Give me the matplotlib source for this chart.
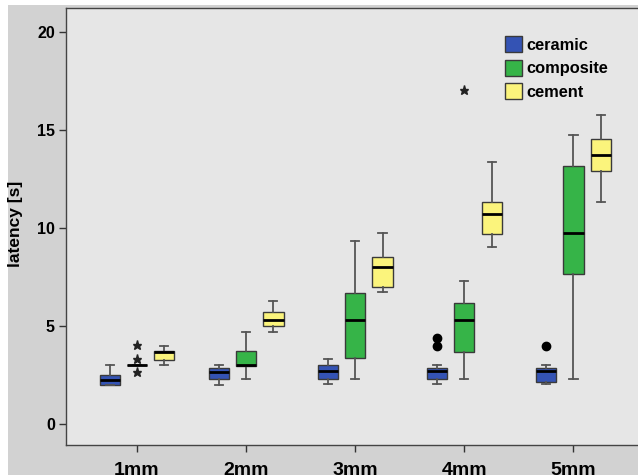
"""Latency by depth: boxplots for ceramic, composite and cement."""

import matplotlib

matplotlib.use("Agg")
import matplotlib.pyplot as plt
from matplotlib.patches import Patch, Rectangle

plt.rcParams["font.family"] = ["Liberation Sans", "DejaVu Sans"]
plt.rcParams["font.weight"] = "bold"

categories = ["1mm", "2mm", "3mm", "4mm", "5mm"]
materials = ["ceramic", "composite", "cement"]

# ceramic
ceramic_whislo = [1.97, 1.99, 2.02, 2.02, 2.02]
ceramic_q1 = [1.97, 2.28, 2.28, 2.28, 2.14]
ceramic_med = [2.24, 2.67, 2.72, 2.72, 2.72]
ceramic_q3 = [2.51, 2.86, 3.01, 2.87, 2.87]
ceramic_whishi = [3.0, 3.0, 3.32, 3.01, 3.0]
ceramic_outliers = [[], [], [], [3.98, 4.37], [3.98]]
ceramic_extremes = [[], [], [], [], []]

# composite
composite_whislo = [3.0, 2.3, 2.31, 2.31, 2.31]
composite_q1 = [3.0, 2.98, 3.35, 3.66, 7.65]
composite_med = [3.0, 3.0, 5.31, 5.31, 9.73]
composite_q3 = [3.0, 3.71, 6.67, 6.16, 13.16]
composite_whishi = [3.0, 4.69, 9.34, 7.3, 14.76]
composite_outliers = [[], [], [], [], []]
composite_extremes = [[2.67, 3.3, 4.03], [], [], [17.04], []]

# cement
cement_whislo = [3.0, 4.69, 6.72, 9.05, 11.33]
cement_q1 = [3.27, 5.0, 6.97, 9.71, 12.89]
cement_med = [3.69, 5.3, 7.99, 10.73, 13.72]
cement_q3 = [3.72, 5.7, 8.5, 11.34, 14.54]
cement_whishi = [4.0, 6.3, 9.73, 13.35, 15.75]
cement_outliers = [[], [], [], [], []]
cement_extremes = [[], [], [], [], []]

series = {
    "ceramic": (ceramic_whislo, ceramic_q1, ceramic_med, ceramic_q3, ceramic_whishi,
                ceramic_outliers, ceramic_extremes),
    "composite": (composite_whislo, composite_q1, composite_med, composite_q3,
                  composite_whishi, composite_outliers, composite_extremes),
    "cement": (cement_whislo, cement_q1, cement_med, cement_q3, cement_whishi,
               cement_outliers, cement_extremes),
}
colors = {"ceramic": "#3453b4", "composite": "#36b448", "cement": "#fbf47c"}
offsets = {"ceramic": -0.25, "composite": 0.0, "cement": 0.25}

W, H = 638, 475
fig = plt.figure(figsize=(W / 100, H / 100), dpi=100, facecolor="#d2d2d2")
# white strips of the scanned figure border
fig.patches.append(Rectangle((0, 0), 8 / W, 1, transform=fig.transFigure,
                             facecolor="white", edgecolor="none", zorder=-1))
fig.patches.append(Rectangle((0, 1 - 5 / H), 1, 5 / H, transform=fig.transFigure,
                             facecolor="white", edgecolor="none", zorder=-1))

ax = fig.add_axes([66 / W, 30 / H, (W + 2 - 66) / W, 437 / H])
ax.set_facecolor("#e6e6e6")

for name, (wlo, q1, med, q3, whi, outl, extr) in series.items():
    stats = []
    for i in range(len(categories)):
        stats.append({"whislo": wlo[i], "q1": q1[i], "med": med[i], "q3": q3[i],
                      "whishi": whi[i], "fliers": outl[i]})
    pos = [i + offsets[name] for i in range(len(categories))]
    ax.bxp(stats, positions=pos, widths=0.185, patch_artist=True, showfliers=True,
           capwidths=0.075,
           boxprops=dict(facecolor=colors[name], edgecolor="#3a3a3a", linewidth=1.0),
           medianprops=dict(color="black", linewidth=2.0),
           whiskerprops=dict(color="#555555", linewidth=1.3),
           capprops=dict(color="#555555", linewidth=1.3),
           flierprops=dict(marker="o", markerfacecolor="black", markeredgecolor="black",
                           markersize=6, linestyle="none"))
    for i, vals in enumerate(extr):
        if vals:
            ax.plot([pos[i]] * len(vals), vals, linestyle="none", marker="*",
                    color="#222222", markersize=6.5)

ax.set_xlim(-0.651, 4.61)
ax.set_ylim(-1.07, 21.22)
ax.set_xticks(range(len(categories)))
ax.set_xticklabels(categories, fontsize=14, fontweight="bold")
ax.set_yticks([0, 5, 10, 15, 20])
ax.tick_params(axis="y", labelsize=11.5, length=5, width=1, pad=3, color="#333333")
ax.tick_params(axis="x", length=5, width=1, pad=7, color="#333333")
ax.set_ylabel("latency [s]", fontsize=12.5, fontweight="bold")
ax.yaxis.set_label_coords(-0.075, 0.506)

for side in ("left", "bottom", "top"):
    ax.spines[side].set_color("#444444")
    ax.spines[side].set_linewidth(1.0)
ax.spines["right"].set_visible(False)

handles = [Patch(facecolor=colors[m], edgecolor="#3a3a3a", label=m) for m in materials]
ax.legend(handles=handles, loc="upper left", bbox_to_anchor=(505 / W, 1 - 36 / H),
          bbox_transform=fig.transFigure, frameon=False,
          handlelength=1.05, handleheight=1.15, handletextpad=0.25, labelspacing=0.42,
          borderpad=0, borderaxespad=0, prop={"weight": "bold", "size": 11.8})

fig.savefig("out.png", dpi=100, facecolor=fig.get_facecolor())
